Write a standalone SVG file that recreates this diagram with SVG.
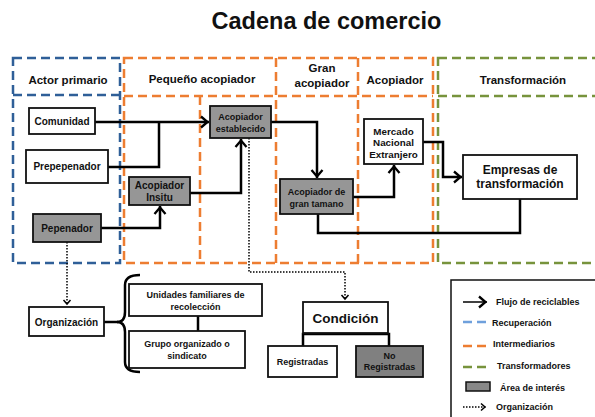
<svg xmlns="http://www.w3.org/2000/svg" width="595" height="417" viewBox="0 0 595 417">
<style>
text{font-family:"Liberation Sans",Arial,sans-serif;font-weight:bold;fill:#111;text-anchor:middle}
.box{fill:#fff;stroke:#111;stroke-width:1.8}
.gray{fill:#969696;stroke:#111;stroke-width:1.8}
.dgray{fill:#808080;stroke:#111;stroke-width:1.8}
.conn{fill:none;stroke:#000;stroke-width:2.5}
.dot{fill:none;stroke:#000;stroke-width:1.5;stroke-dasharray:1.5 1.5}
.blue{fill:none;stroke:#2f5f98;stroke-width:2.5;stroke-dasharray:9 5}
.orange{fill:none;stroke:#ed7d31;stroke-width:2.5;stroke-dasharray:9 5}
.green{fill:none;stroke:#77933c;stroke-width:2.5;stroke-dasharray:9 5}
.n{font-size:10px}
.s{font-size:9px}
.m{font-size:9.8px}
.h{font-size:11.5px}
.lg{font-size:9px;text-anchor:start}
</style>
<defs>
<marker id="arr" viewBox="-10 -7 12 14" markerWidth="12" markerHeight="14" markerUnits="userSpaceOnUse" orient="auto" refX="0" refY="0">
<path d="M-8,-5.5 L-1.5,0 L-8,5.5" fill="none" stroke="#000" stroke-width="2.3"/>
</marker>
<marker id="darr" viewBox="-8 -5 10 10" markerWidth="10" markerHeight="10" markerUnits="userSpaceOnUse" orient="auto" refX="0" refY="0">
<path d="M-5,-3.5 L-1,0 L-5,3.5" fill="none" stroke="#000" stroke-width="1.5"/>
</marker>
</defs>
<rect width="595" height="417" fill="#fff"/>

<text x="326.5" y="29" style="font-size:23.5px">Cadena de comercio</text>

<g id="regions">
<rect class="blue" x="13" y="58" width="107" height="205"/>
<line class="blue" x1="13" y1="95" x2="120" y2="95"/>
<rect class="orange" x="124" y="58" width="309" height="205"/>
<line class="orange" x1="124" y1="96" x2="433" y2="96"/>
<line class="orange" x1="200" y1="96" x2="200" y2="263"/>
<line class="orange" x1="276" y1="58" x2="276" y2="263"/>
<line class="orange" x1="358" y1="58" x2="358" y2="263"/>
<rect class="green" x="438" y="58" width="170" height="205"/>
<line class="green" x1="438" y1="96" x2="608" y2="96"/>
<text class="h" x="68" y="84">Actor primario</text>
<text class="h" x="202" y="83">Pequeño acopiador</text>
<text class="h" x="322" y="72">Gran</text>
<text class="h" x="322" y="87">acopiador</text>
<text class="h" x="395" y="84">Acopiador</text>
<text class="h" x="523" y="84">Transformación</text>
</g>

<g id="connectors">
<path class="conn" d="M95,122 H209" marker-end="url(#arr)"/>
<path class="conn" d="M108,167 H159 V122"/>
<path class="conn" d="M101,228 H160 V206" marker-end="url(#arr)"/>
<path class="conn" d="M190,193 H241 V139" marker-end="url(#arr)"/>
<path class="conn" d="M271,122 H317 V178" marker-end="url(#arr)"/>
<path class="conn" d="M353,197 H394 V165" marker-end="url(#arr)"/>
<path class="conn" d="M423,142 H443 V177 H462" marker-end="url(#arr)"/>
<path class="conn" d="M318,214 V233 H520 V199"/>
<path class="dot" d="M249,138 V272 H345 V300" marker-end="url(#darr)"/>
<path class="dot" d="M67,242 V305" marker-end="url(#darr)"/>
<path class="conn" d="M303,346 V334 H389 V346"/>
<path class="conn" d="M198,316 V331"/>
<path class="conn" d="M104,322 H118"/>
<path class="conn" d="M140,275 Q125,275 125,285 V312 Q125,322 117,322 Q125,322 125,332 V362 Q125,372 140,372"/>
</g>

<g id="comunidad"><rect class="box" x="29" y="108" width="66" height="26"/><text class="n" x="62" y="124.5">Comunidad</text></g>
<g id="prepepenador"><rect class="box" x="26" y="150" width="82" height="33"/><text class="n" x="67" y="170">Prepepenador</text></g>
<g id="pepenador"><rect class="gray" x="33" y="214" width="68" height="28"/><text class="n" x="67" y="231.5">Pepenador</text></g>
<g id="acopiador-insitu"><rect class="gray" x="129" y="177" width="61" height="28"/><text class="n" x="159.5" y="189">Acopiador</text><text class="n" x="159.5" y="200.5">Insitu</text></g>
<g id="acopiador-establecido"><rect class="gray" x="210" y="106" width="61" height="32"/><text class="s" x="240.5" y="120">Acopiador</text><text class="s" x="240.5" y="131.5">establecido</text></g>
<g id="acopiador-gran"><rect class="gray" x="280" y="179" width="73" height="35"/><text class="s" x="316.5" y="195">Acopiador de</text><text class="s" x="316.5" y="206.5">gran tamano</text></g>
<g id="mercado"><rect class="box" x="364" y="119" width="59" height="45"/><text class="m" x="393.5" y="134.5">Mercado</text><text class="m" x="393.5" y="146">Nacional</text><text class="m" x="393.5" y="157.5">Extranjero</text></g>
<g id="empresas"><rect class="box" x="463" y="155" width="114" height="44"/><text x="520" y="174" style="font-size:12px">Empresas de</text><text x="520" y="188" style="font-size:12px">transformación</text></g>

<g id="organizacion"><rect class="box" x="29" y="307" width="75" height="29"/><text class="n" x="66.5" y="325.5">Organización</text></g>
<g id="unidades"><rect class="box" x="129" y="284" width="133" height="32"/><text class="s" x="195.5" y="298">Unidades familiares de</text><text class="s" x="195.5" y="309.5">recolección</text></g>
<g id="grupo"><rect class="box" x="129" y="331" width="116" height="37"/><text class="s" x="187" y="347">Grupo organizado o</text><text class="s" x="187" y="358.5">sindicato</text></g>

<g id="condicion"><rect class="box" x="303" y="302" width="85" height="31"/><text x="345.5" y="322.5" style="font-size:13.5px">Condición</text></g>
<g id="registradas"><rect class="box" x="268" y="346" width="69" height="31"/><text class="s" x="302.5" y="364.5">Registradas</text></g>
<g id="no-registradas"><rect class="dgray" x="356" y="346" width="67" height="31"/><text class="s" x="389.5" y="359">No</text><text class="s" x="389.5" y="370">Registradas</text></g>

<g id="legend">
<rect x="451" y="280" width="150" height="150" fill="#fff" stroke="#111" stroke-width="1.5"/>
<path d="M463,302 H487" fill="none" stroke="#000" stroke-width="1.5" marker-end="url(#arr)"/>
<text class="lg" x="496" y="305">Flujo de reciclables</text>
<path d="M463,322 H487" fill="none" stroke="#6fa0dc" stroke-width="2.5" stroke-dasharray="9 5"/>
<text class="lg" x="492" y="325.5">Recuperación</text>
<path d="M463,346 H487" fill="none" stroke="#ed7d31" stroke-width="2.5" stroke-dasharray="9 5"/>
<text class="lg" x="493" y="347">Intermediarios</text>
<path d="M463,367 H487" fill="none" stroke="#77933c" stroke-width="2.5" stroke-dasharray="9 5"/>
<text class="lg" x="497" y="369">Transformadores</text>
<rect x="466" y="382" width="24" height="9" fill="#888" stroke="#111" stroke-width="1.5"/>
<text class="lg" x="500" y="391">Área de interés</text>
<path class="dot" d="M463,407 H486" marker-end="url(#darr)"/>
<text class="lg" x="496" y="410">Organización</text>
</g>
</svg>
